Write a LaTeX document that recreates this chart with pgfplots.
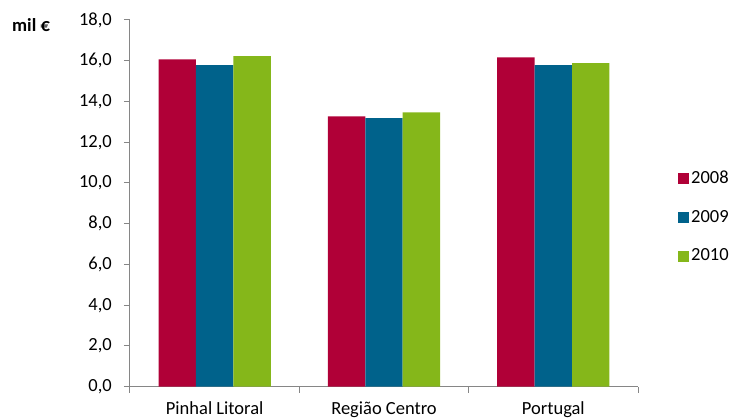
\documentclass[border=0pt]{standalone}
\usepackage{pgfplots}
\pgfplotsset{compat=1.18}
\usepackage{fontspec}
\setmainfont{Carlito}
\definecolor{c2008}{RGB}{176,0,55}
\definecolor{c2009}{RGB}{0,98,139}
\definecolor{c2010}{RGB}{133,183,26}
\definecolor{axgray}{RGB}{134,134,134}
\begin{document}
\fontsize{18.5pt}{22pt}\selectfont
\begin{tikzpicture}[x=1pt,y=1pt]
\useasboundingbox (0,0) rectangle (732,419);
\node[anchor=base west, inner sep=0pt] at (12,387.3) {\fontsize{18.5pt}{22pt}\selectfont\bfseries mil €};
\begin{axis}[
  at={(130pt,32.3pt)}, anchor=south west,
  scale only axis, width=508pt, height=366.7pt,
  ybar=0pt, bar width=0.221,
  xmin=-0.5, xmax=2.5, ymin=0, ymax=18,
  ytick={0,2,...,18},
  xtick={-0.5,0.5,1.5,2.5}, xticklabels={},
  extra x ticks={0,1,2},
  extra x tick labels={Pinhal Litoral,Região Centro,Portugal},
  extra x tick style={major tick length=0pt, xticklabel style={anchor=base, yshift=-28pt, inner sep=0pt}},
  axis x line*=bottom, axis y line*=left,
  axis line style={axgray, line width=1pt},
  tick style={axgray, line width=1pt},
  tick align=outside, major tick length=6pt,
  ticklabel style={font=\fontsize{18.5pt}{22pt}\selectfont, text=black},
  y tick label style={/pgf/number format/fixed, /pgf/number format/fixed zerofill, /pgf/number format/precision=1, /pgf/number format/use comma, /pgf/number format/assume math mode=true, anchor=east, inner sep=0pt, xshift=-12pt},
  legend style={at={(1.0787,0.595)}, anchor=north west, draw=none, fill=none, inner sep=0pt,
    font=\fontsize{18.5pt}{22pt}\selectfont, row sep=20pt, legend cell align=left},
  legend image code/.code={\fill[#1] (0pt,-5.5pt) rectangle (11pt,5.5pt);},
  clip=false,
]
\addplot[fill=c2008, draw=none] coordinates {(0,16.07) (1,13.27) (2,16.17)};
\addplot[fill=c2009, draw=none] coordinates {(0,15.79) (1,13.18) (2,15.79)};
\addplot[fill=c2010, draw=none] coordinates {(0,16.23) (1,13.47) (2,15.88)};
\legend{2008,2009,2010}
\end{axis}
\end{tikzpicture}
\end{document}
